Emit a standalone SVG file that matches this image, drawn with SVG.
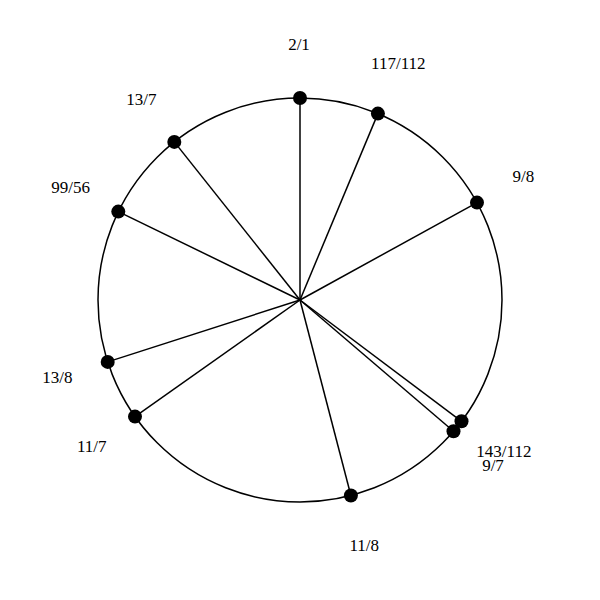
<svg xmlns="http://www.w3.org/2000/svg" width="600" height="600" viewBox="0 0 600 600">
<style>
.ring{fill:none;stroke:#000;stroke-width:1.5}
.spoke{stroke:#000;stroke-width:1.5}
.dot{fill:#000}
.lbl{font-family:"Liberation Serif","Times New Roman",serif;font-size:17px;fill:#000;text-anchor:middle}
</style>
<rect width="600" height="600" fill="#fff"/>
<circle class="ring" cx="300" cy="300" r="202"/>
<g id="connectors">
<line class="spoke" x1="300" y1="300" x2="300" y2="98"/>
<line class="spoke" x1="300" y1="300" x2="377.9" y2="113.6"/>
<line class="spoke" x1="300" y1="300" x2="477" y2="202.6"/>
<line class="spoke" x1="300" y1="300" x2="461.5" y2="421.3"/>
<line class="spoke" x1="300" y1="300" x2="453.5" y2="431.3"/>
<line class="spoke" x1="300" y1="300" x2="350.9" y2="495.5"/>
<line class="spoke" x1="300" y1="300" x2="135" y2="416.6"/>
<line class="spoke" x1="300" y1="300" x2="107.7" y2="361.9"/>
<line class="spoke" x1="300" y1="300" x2="118.3" y2="211.6"/>
<line class="spoke" x1="300" y1="300" x2="174.3" y2="141.9"/>
</g>
<g id="n-2-1"><circle class="dot" cx="300" cy="98" r="7"/><text class="lbl" x="299" y="50">2/1</text></g>
<g id="n-117-112"><circle class="dot" cx="377.9" cy="113.6" r="7"/><text class="lbl" x="398.3" y="69.2">117/112</text></g>
<g id="n-9-8"><circle class="dot" cx="477" cy="202.6" r="7"/><text class="lbl" x="523.4" y="181.5">9/8</text></g>
<g id="n-143-112"><circle class="dot" cx="461.5" cy="421.3" r="7"/><text class="lbl" x="503.9" y="457">143/112</text></g>
<g id="n-9-7"><circle class="dot" cx="453.5" cy="431.3" r="7"/><text class="lbl" x="493" y="471">9/7</text></g>
<g id="n-11-8"><circle class="dot" cx="350.9" cy="495.5" r="7"/><text class="lbl" x="364.3" y="551">11/8</text></g>
<g id="n-11-7"><circle class="dot" cx="135" cy="416.6" r="7"/><text class="lbl" x="91.8" y="451.7">11/7</text></g>
<g id="n-13-8"><circle class="dot" cx="107.7" cy="361.9" r="7"/><text class="lbl" x="57.3" y="382.6">13/8</text></g>
<g id="n-99-56"><circle class="dot" cx="118.3" cy="211.6" r="7"/><text class="lbl" x="70.7" y="192.9">99/56</text></g>
<g id="n-13-7"><circle class="dot" cx="174.3" cy="141.9" r="7"/><text class="lbl" x="141.3" y="104.9">13/7</text></g>
</svg>
